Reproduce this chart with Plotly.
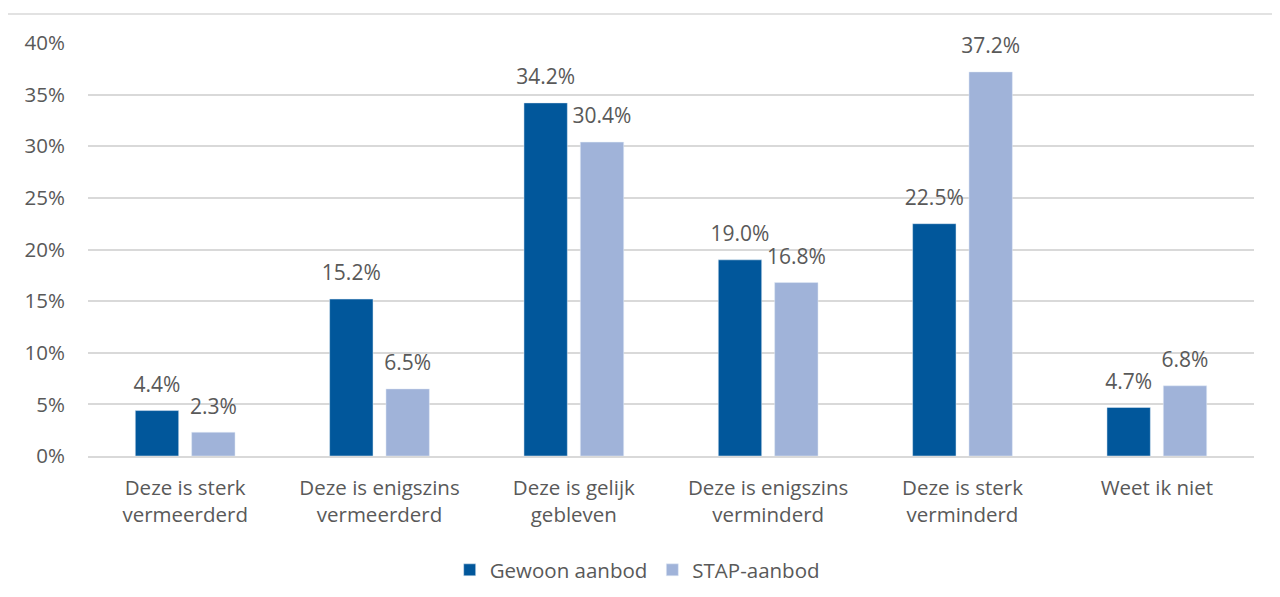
import plotly.graph_objects as go

categories = ["Deze is sterk<br>vermeerderd", "Deze is enigszins<br>vermeerderd", "Deze is gelijk<br>gebleven",
              "Deze is enigszins<br>verminderd", "Deze is sterk<br>verminderd", "Weet ik niet"]
series_names = ["Gewoon aanbod", "STAP-aanbod"]
gewoon = [4.4, 15.2, 34.2, 19.0, 22.5, 4.7]
stap = [2.3, 6.5, 30.4, 16.8, 37.2, 6.8]
ytick_vals = [0, 5, 10, 15, 20, 25, 30, 35, 40]
ytick_text = [f"{v}%" for v in ytick_vals]

font_family = "Open Sans, Noto Sans, sans-serif"
gray = "#595959"
fs = 20.5
colors = ["#01579B", "#A0B3D9"]

fig = go.Figure()
for name, vals, col in zip(series_names, [gewoon, stap], colors):
    fig.add_trace(go.Bar(name=name, x=categories, y=vals, marker_color=col, offsetgroup=name))
for name, vals in zip(series_names, [gewoon, stap]):
    fig.add_trace(go.Scatter(x=categories, y=vals, mode="markers+text", offsetgroup=name,
                             text=[f"{v:.1f}%" for v in vals], textposition="top center",
                             marker=dict(size=20, opacity=0), showlegend=False, hoverinfo="skip",
                             textfont=dict(size=21, color=gray, family=font_family), cliponaxis=False))

fig.update_layout(
    width=1272, height=589,
    margin=dict(l=80, r=26, t=35, b=141, autoexpand=False),
    paper_bgcolor="white", plot_bgcolor="white",
    barmode="group", bargap=0.42, bargroupgap=0.23,
    scattermode="group", scattergap=0.42,
    font=dict(family=font_family, size=fs, color=gray),
    showlegend=True,
    legend=dict(orientation="h", x=0.471, xanchor="center", y=-0.276, yanchor="middle",
                font=dict(size=fs, color=gray), traceorder="normal"),
    shapes=[dict(type="rect", xref="paper", yref="paper", x0=-0.0695, x1=1.2, y0=-0.6, y1=1.0702,
                 line=dict(color="#D9D9D9", width=1.5), fillcolor="rgba(0,0,0,0)", layer="below")],
)
fig.update_yaxes(range=[0, 40], tickvals=ytick_vals, ticktext=ytick_text, showgrid=True,
                 gridcolor="#D9D9D9", gridwidth=1.5, zeroline=False, showline=False, automargin=False,
                 ticks="", ticklabelstandoff=22, tickfont=dict(size=fs, color=gray))
fig.update_xaxes(showgrid=False, showline=True, linecolor="#D9D9D9", linewidth=1.5, ticks="",
                 automargin=False, ticklabelstandoff=13, tickfont=dict(size=fs, color=gray))

fig.write_html("out.html")
